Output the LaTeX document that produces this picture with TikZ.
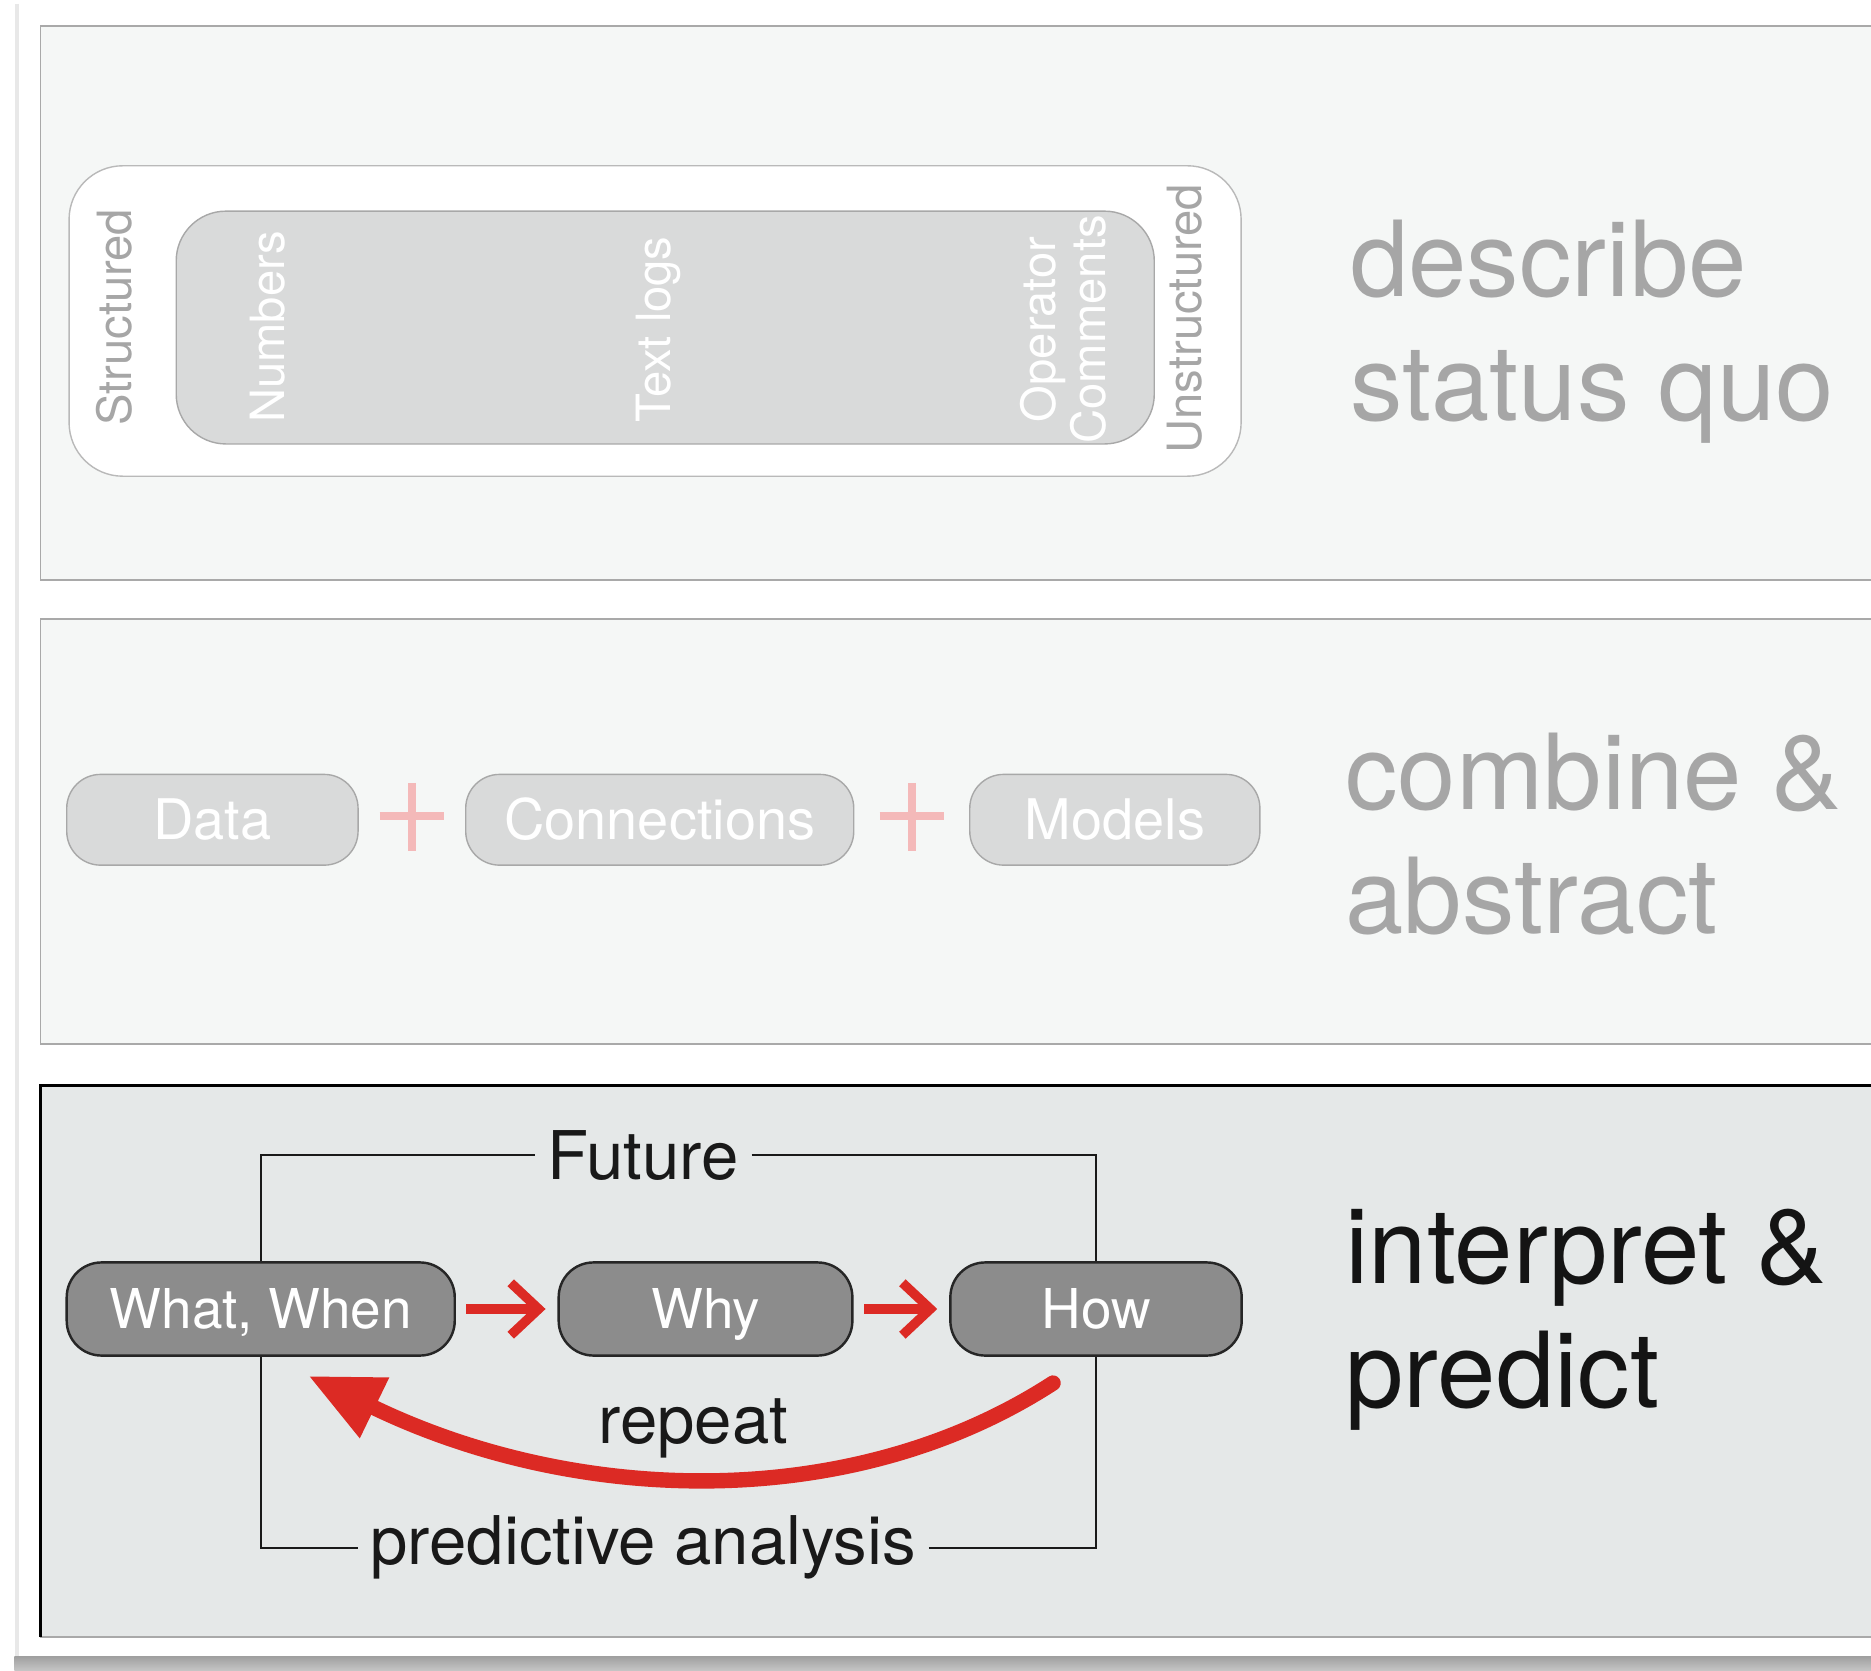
\documentclass[tikz,border=0pt]{standalone}
\usepackage{fontspec}
\setmainfont{TeX Gyre Heros}
\usepackage{xcolor}
\definecolor{panelbg}{HTML}{F5F7F6}
\definecolor{panelline}{HTML}{A9A9A9}
\definecolor{activebg}{HTML}{E5E8E8}
\definecolor{softgray}{HTML}{D9DADA}
\definecolor{softline}{HTML}{A8A8A8}
\definecolor{fadetext}{HTML}{A6A6A6}
\definecolor{darkbox}{HTML}{8C8C8C}
\definecolor{rred}{HTML}{DC2A24}
\definecolor{pinkplus}{HTML}{F4B9B9}
\usepackage{tikz}
\usetikzlibrary{arrows.meta,positioning,calc}

\begin{document}
\begin{tikzpicture}[
  x=0.012cm, y=-0.012cm,
  panel/.style={draw=panelline,line width=0.5pt,fill=panelbg},
  sbox/.style={rectangle,draw=softline,rounded corners=0.34cm,fill=softgray,text=white,minimum height=0.912cm,inner sep=0pt,text height=11.5pt,text depth=0pt,font=\fontsize{16}{19}\selectfont},
  dbox/.style={rectangle,draw=black!85,line width=0.7pt,rounded corners=0.35cm,fill=darkbox,text=white,minimum height=0.936cm,inner sep=0pt,text height=11.3pt,text depth=0pt,font=\fontsize{15.7}{19}\selectfont},
  vlabel/.style={rotate=90,inner sep=0pt,align=center,font=\fontsize{13.5}{14.5}\selectfont},
  stage/.style={anchor=west,inner sep=0pt,align=left,font=\fontsize{30}{35.5}\selectfont},
  bracketlabel/.style={fill=activebg,text=black!90,inner xsep=3.5pt,inner ysep=0pt,font=\fontsize{19.2}{22}\selectfont},
  bracket/.style={black!90,line width=0.6pt},
  fwd/.style={rred,line width=2.7pt,-{Straight Barb[length=8pt,width=15pt]},shorten <=3pt,shorten >=3.4pt},
  backarrow/.style={rred,line width=4.4pt,line cap=round,-{Triangle[length=21pt,width=18pt]}},
  plussign/.style={pinkplus,line width=2.4pt}
]
  \useasboundingbox (0,0) rectangle (1568,1400);

  % page edge and shadow
  \draw[gray!18,line width=1.2pt] (14,3) -- (14,1388);
  \shade[top color=gray!75,bottom color=gray!45] (12,1388) rectangle (1568,1400);

  % Panels
  \draw[panel] (34,22) rectangle (1600,486);
  \draw[panel] (34,519) rectangle (1600,875);
  \draw[panel,fill=activebg] (34,910) rectangle (1600,1372);
  \draw[black,line width=0.8pt] (34,1372) -- (34,910) -- (1600,910);

  % describe status quo
  \node[rectangle,draw=softline!80,fill=white,rounded corners=0.54cm,minimum width=11.78cm,minimum height=3.12cm] (raw) at (549,269) {};
  \node[rectangle,draw=softline,fill=softgray,rounded corners=0.5cm,minimum width=9.83cm,minimum height=2.34cm] (pool) at (557.5,274.5) {};
  \node[vlabel,fadetext] (structured) at (96,266) {Structured};
  \node[vlabel,fadetext] (unstructured) at (993,267) {Unstructured};
  \node[vlabel,white] (numbers) at (224,274) {Numbers};
  \node[vlabel,white] (textlogs) at (552,276) {Text logs};
  \node[vlabel,white] (comments) at (891,276) {Operator\\Comments};
  \node[stage,fadetext] (describe) at (1131,278) {describe\\status quo};

  % combine & abstract
  \node[sbox,minimum width=2.928cm] (data) at (178,687) {Data};
  \node[sbox,minimum width=3.9cm,right=1.068cm of data] (links) {Connections};
  \node[sbox,minimum width=2.916cm,right=1.152cm of links] (models) {Models};
  \coordinate (plusA) at ($(data.east)!0.5!(links.west)$);
  \coordinate (plusB) at ($(links.east)!0.5!(models.west)$);
  \draw[plussign] (plusA) +(-27,-3) -- +(27,-3) +(0,-31) -- +(0,26);
  \draw[plussign] (plusB) +(-27,-3) -- +(27,-3) +(0,-31) -- +(0,26);
  \node[stage,fadetext] (combine) at (1127,699) {combine \&\\abstract};

  % interpret & predict
  \node[dbox,minimum width=3.9cm] (what) at (218.5,1097) {What, When};
  \node[dbox,minimum width=2.952cm,right=1.02cm of what] (why) {Why};
  \node[dbox,minimum width=2.928cm,right=0.96cm of why] (how) {How};
  \node[bracketlabel] (future) at (539,968) {Future};
  \node[bracketlabel] (predictive) at (539,1297) {predictive analysis};
  \node[bracketlabel,fill=none] (repeat) at (581,1197) {repeat};
  \node[stage,text=black!92] (interpret) at (1127,1106) {interpret \&\\predict};

  % Arrows
  \draw[bracket] (what.north) |- (future.west);
  \draw[bracket] (future.east) -| (how.north);
  \draw[bracket] (what.south) |- (predictive.west);
  \draw[bracket] (predictive.east) -| (how.south);
  \draw[fwd] (what) -- (why);
  \draw[fwd] (why) -- (how);
  \coordinate (loopstart) at ([shift={(-36,22)}]how.south);
  \coordinate (looptip) at ([shift={(40,16)}]what.south);
  \draw[backarrow] (loopstart) .. controls +(-168,109) and +(225,109) .. (looptip);
\end{tikzpicture}
\end{document}
